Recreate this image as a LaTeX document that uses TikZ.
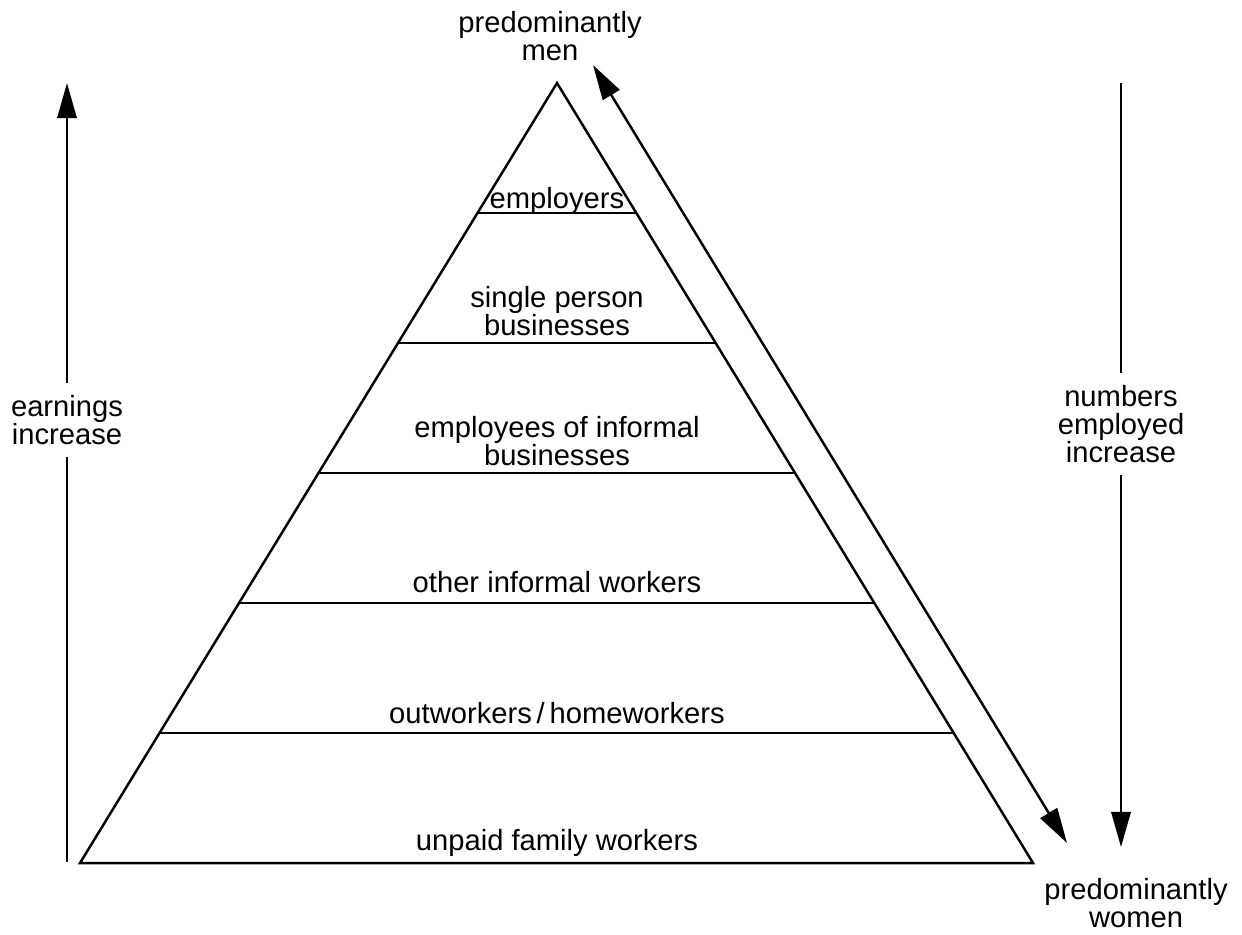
\documentclass[tikz,border=0pt]{standalone}
\usepackage{fontspec}
\setmainfont{Liberation Sans}
\usetikzlibrary{arrows.meta,calc}

\begin{document}
\begin{tikzpicture}[line width=0.7pt, >={Triangle[length=10pt,width=5.5pt]}]
\tikzstyle{txt}=[align=center, font=\fontsize{8.3}{8}\selectfont, inner sep=0pt]
\tikzstyle{axis}=[txt, inner sep=3pt]

\useasboundingbox (0,0) rectangle (12.42,-9.34);

% pyramid
\coordinate (apex) at (5.57,-0.83);
\coordinate (bl) at (0.80,-8.63);
\coordinate (br) at (10.33,-8.63);
\draw (apex) -- (bl) -- (br) -- cycle;
\foreach \f in {1,...,5}
    \draw ($(apex)!\f/6!(bl)$) -- ($(apex)!\f/6!(br)$);

\node[txt] (emp)  at (5.57,-2.01) {employers};
\node[txt] (spb)  at (5.57,-3.11) {single person\\businesses};
\node[txt] (eib)  at (5.57,-4.41) {employees of informal\\businesses};
\node[txt] (oiw)  at (5.57,-5.82) {other informal workers};
\node[txt] (ohw)  at (5.57,-7.13) {outworkers\thinspace/\thinspace homeworkers};
\node[txt] (ufw)  at (5.57,-8.43) {unpaid family workers};

% earnings
\coordinate (eb) at (0.67,-8.62);
\coordinate (et) at (0.67,-0.83);
\node[axis] (earn) at (0.67,-4.20) {earnings\\increase};
\draw (eb) -- (earn);
\draw[->] (earn) -- (et);

% numbers employed
\coordinate (nt) at (11.21,-0.83);
\coordinate (nb) at (11.21,-8.47);
\node[axis] (num) at (11.21,-4.24) {numbers\\employed\\increase};
\draw (nt) -- (num);
\draw[->] (num) -- (nb);

% men / women
\node[txt] (men) at (5.50,-0.36) {predominantly\\men};
\node[txt] (women) at (11.36,-9.03) {predominantly\\women};
\coordinate (dm) at (5.93,-0.65);
\coordinate (dw) at (10.67,-8.43);
\draw[<->] (dm) -- (dw);
\end{tikzpicture}
\end{document}
